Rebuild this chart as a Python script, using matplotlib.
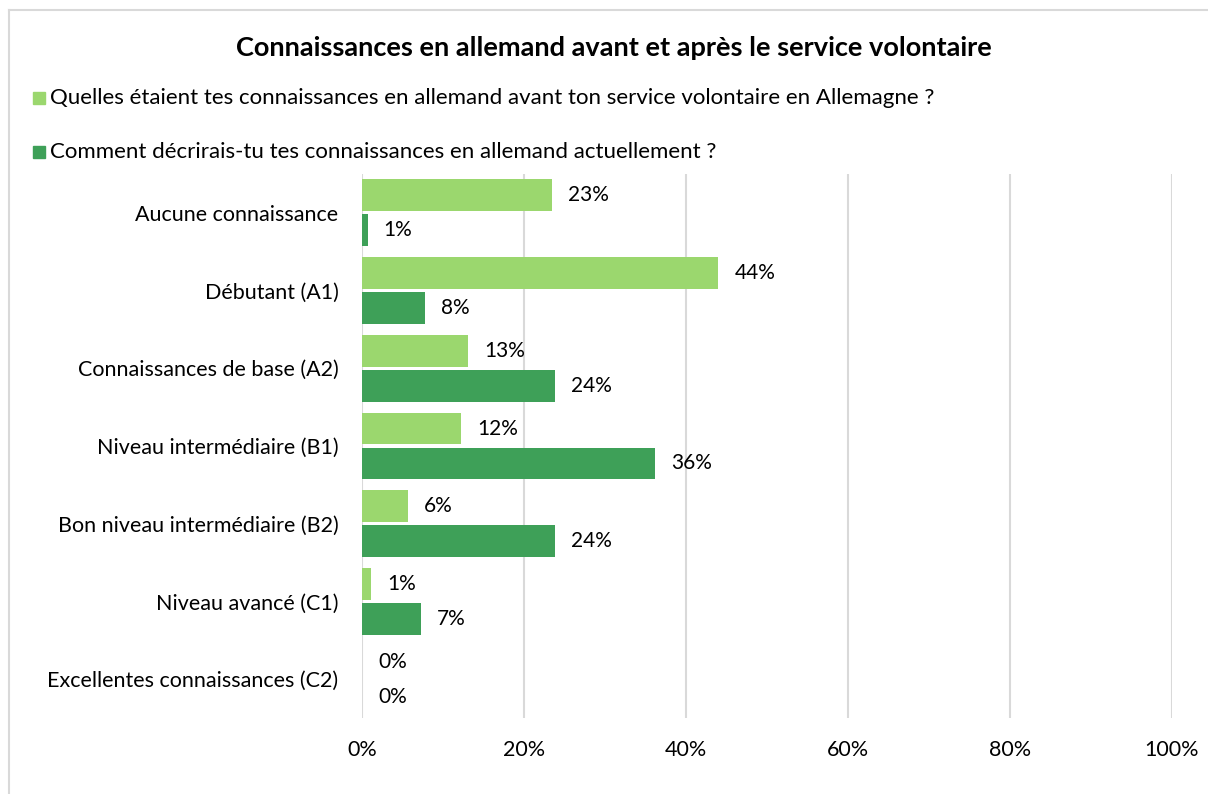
import matplotlib
matplotlib.use("Agg")
from matplotlib import pyplot as plt
from matplotlib.lines import Line2D
from matplotlib.patches import Rectangle
import numpy as np

plt.rcParams['font.family'] = ['Lato', 'DejaVu Sans']

categories = ["Aucune connaissance", "Débutant (A1)", "Connaissances de base (A2)",
              "Niveau intermédiaire (B1)", "Bon niveau intermédiaire (B2)",
              "Niveau avancé (C1)", "Excellentes connaissances (C2)"]
avant = [23.4, 44.0, 13.1, 12.2, 5.7, 1.1, 0.0]
maintenant = [0.7, 7.8, 23.8, 36.2, 23.8, 7.3, 0.0]
series_names = ["Quelles étaient tes connaissances en allemand avant ton service volontaire en Allemagne ?",
                "Comment décrirais-tu tes connaissances en allemand actuellement ?"]
xticks = [0, 20, 40, 60, 80, 100]

light = "#9bd76e"
dark = "#3ea058"
grid = "#d9d9d9"

W, H = 1208, 794
fig = plt.figure(figsize=(W / 100, H / 100), dpi=100)

# chart border (cropped at right/bottom)
fig.add_artist(Line2D([9 / W, 1], [1 - 10 / H, 1 - 10 / H], color=grid, lw=1.5))
fig.add_artist(Line2D([9 / W, 9 / W], [0, 1 - 10 / H], color=grid, lw=1.5))

ax = fig.add_axes([362 / W, 1 - 718 / H, (1172 - 362) / W, (718 - 174) / H])

y = np.arange(len(categories))
h = 0.41
b1 = ax.barh(y - h / 2 - 0.02, avant, height=h, color=light)
b2 = ax.barh(y + h / 2 + 0.02, maintenant, height=h, color=dark)
for bars, vals in ((b1, avant), (b2, maintenant)):
    ax.bar_label(bars, labels=[f"{v:.0f}%" for v in vals], padding=11.5, fontsize=15)

ax.set_ylim(len(categories) - 0.5, -0.5)
ax.set_xlim(0, 100)
ax.set_yticks(y, categories, fontsize=15.5)
ax.set_xticks(xticks, [f"{t}%" for t in xticks], fontsize=15.5)
ax.tick_params(axis='y', length=0, pad=17)
ax.tick_params(axis='x', length=0, pad=16)
ax.xaxis.grid(True, color=grid, lw=1.5)
ax.set_axisbelow(True)
for s in ax.spines.values():
    s.set_visible(False)

fig.text(614 / W, 1 - 48 / H, "Connaissances en allemand avant et après le service volontaire",
         ha='center', va='center', fontsize=19.5, fontweight='bold')

for i, (name, col) in enumerate(zip(series_names, [light, dark])):
    yc = 1 - (98 + 54 * i) / H
    fig.add_artist(Rectangle((33 / W, yc - 6 / H), 12 / W, 12 / H, color=col))
    fig.text(50 / W, yc, name, ha='left', va='center', fontsize=16)

fig.savefig("out.png", dpi=100)
